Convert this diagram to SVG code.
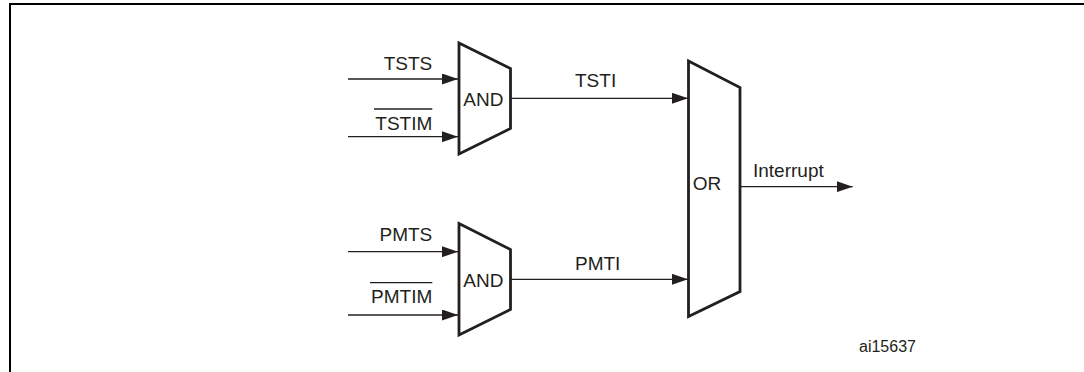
<svg xmlns="http://www.w3.org/2000/svg" width="1084" height="372" viewBox="0 0 1084 372">
<style>
.gate{fill:#fff;stroke:#231f20;stroke-width:2.8;stroke-linejoin:miter}
.wire{stroke:#231f20;stroke-width:1.3;fill:none}
.lbl{font-family:"Liberation Sans",Arial,sans-serif;font-size:19px;fill:#231f20}
.small{font-size:16px}
.ol{stroke:#231f20;stroke-width:1.3}
.frame{stroke:#000;stroke-width:2;fill:none}
</style>
<defs>
<marker id="arr" markerUnits="userSpaceOnUse" markerWidth="16" markerHeight="11" refX="16" refY="5.5" orient="auto">
<path d="M0,0 L16,5.5 L0,11 z" fill="#231f20"/>
</marker>
</defs>
<rect width="1084" height="372" fill="#fff"/>
<path class="frame" d="M10,372 V4 H1084"/>
<g id="connectors">
<line class="wire" x1="348" y1="79" x2="458" y2="79" marker-end="url(#arr)"/>
<line class="wire" x1="348" y1="136.7" x2="458" y2="136.7" marker-end="url(#arr)"/>
<line class="wire" x1="348" y1="251.7" x2="458" y2="251.7" marker-end="url(#arr)"/>
<line class="wire" x1="348" y1="315" x2="458" y2="315" marker-end="url(#arr)"/>
<line class="wire" x1="511" y1="98.3" x2="688" y2="98.3" marker-end="url(#arr)"/>
<line class="wire" x1="511" y1="279.3" x2="688" y2="279.3" marker-end="url(#arr)"/>
<line class="wire" x1="741" y1="186.7" x2="852.7" y2="186.7" marker-end="url(#arr)"/>
<text class="lbl" x="432.3" y="69.5" text-anchor="end">TSTS</text>
<text class="lbl" x="432.3" y="130" text-anchor="end">TSTIM</text>
<line class="ol" x1="374" y1="109" x2="432.3" y2="109"/>
<text class="lbl" x="432.3" y="241" text-anchor="end">PMTS</text>
<text class="lbl" x="432.3" y="303.3" text-anchor="end">PMTIM</text>
<line class="ol" x1="370" y1="282.7" x2="432.3" y2="282.7"/>
<text class="lbl" x="575" y="86.7">TSTI</text>
<text class="lbl" x="575" y="270">PMTI</text>
<text class="lbl" x="753" y="177">Interrupt</text>
</g>
<g id="and1">
<polygon class="gate" points="459,43 510.5,68.5 510.5,128.5 459,154"/>
<text class="lbl" x="463.3" y="105.7">AND</text>
</g>
<g id="and2">
<polygon class="gate" points="459,223.5 510.5,249.5 510.5,309.5 459,335"/>
<text class="lbl" x="463.3" y="286.7">AND</text>
</g>
<g id="or">
<polygon class="gate" points="688.5,61 740,87.5 740,291.5 688.5,316.5"/>
<text class="lbl" x="692.7" y="190">OR</text>
</g>
<text class="lbl small" x="859" y="351.7">ai15637</text>
</svg>
